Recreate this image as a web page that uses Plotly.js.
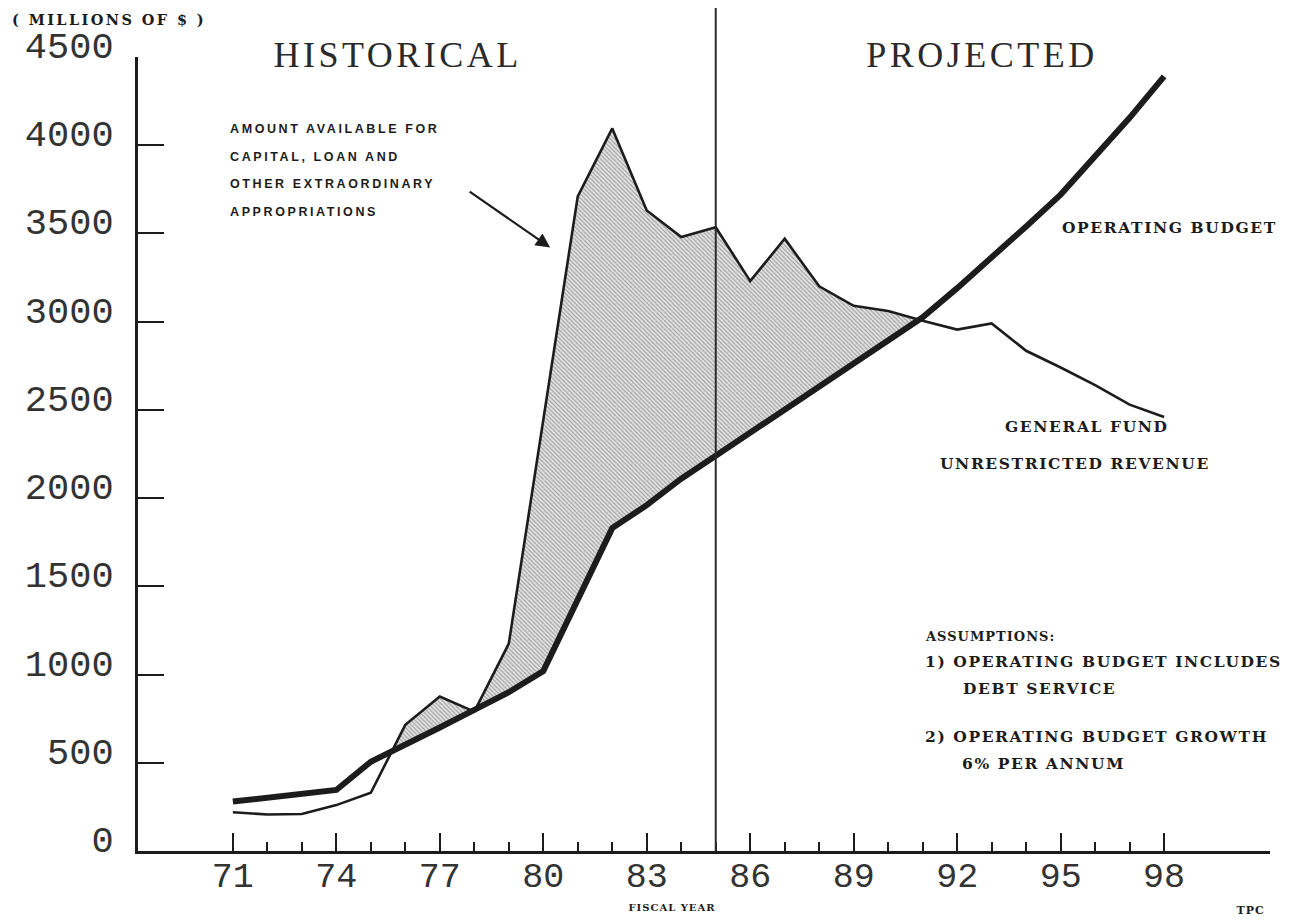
<!DOCTYPE html>
<html>
<head>
<meta charset="utf-8">
<script src="https://cdn.plot.ly/plotly-3.0.1.min.js"></script>
<style>
  html, body { margin: 0; padding: 0; background: #ffffff; }
  #chart { width: 1291px; height: 921px; }
  g.annotation[data-index="0"] text,
  g.annotation[data-index="1"] text,
  g.annotation[data-index="2"] text,
  g.annotation[data-index="3"] text { letter-spacing: 2.6px; }
  g.annotation[data-index="4"] text,
  g.annotation[data-index="5"] text { letter-spacing: 3.5px; }
  g.annotation[data-index="6"] text,
  g.annotation[data-index="7"] text,
  g.annotation[data-index="8"] text,
  g.annotation[data-index="10"] text,
  g.annotation[data-index="11"] text,
  g.annotation[data-index="12"] text,
  g.annotation[data-index="13"] text { letter-spacing: 1.6px; }
  g.annotation[data-index="9"] text { letter-spacing: 1px; }
  g.annotation[data-index="14"] text,
  g.annotation[data-index="15"] text { letter-spacing: 1px; }
  g.annotation[data-index="16"] text { letter-spacing: 2.4px; }
</style>
</head>
<body>
<div id="chart"></div>
<script>
// ---- data ----
const years = [71,72,73,74,75,76,77,78,79,80,81,82,83,84,85,86,87,88,89,90,91,92,93,94,95,96,97,98];
const generalFund = [220,207,210,260,330,715,875,790,1175,2440,3710,4095,3630,3480,3535,3230,3470,3200,3090,3060,3005,2955,2990,2835,2740,2640,2530,2460];
const operatingBudget = [280,302,325,346,506,600,700,800,900,1020,1425,1830,1960,2110,2240,2370,2500,2630,2760,2885,3025,3190,3360,3540,3720,3935,4155,4390];
const yTickVals = [0,500,1000,1500,2000,2500,3000,3500,4000,4500];
const yTickText = ["0","500","1000","1500","2000","2500","3000","3500","4000","4500"];
const xMajorVals = [71,74,77,80,83,86,89,92,95,98];
const xMajorText = ["71","74","77","80","83","86","89","92","95","98"];
const xMinorVals = [72,73,75,76,78,79,81,82,84,85,87,88,90,91,93,94,96,97];
const dividerYear = 85;
const arrowTarget = {year: 80.2, value: 3420};

// ---- build the shaded band (where revenue exceeds the operating budget) ----
const bandX = [], bandLow = [], bandHigh = [];
for (let i = 0; i < years.length; i++) {
  if (i > 0) {
    const d0 = generalFund[i-1] - operatingBudget[i-1];
    const d1 = generalFund[i] - operatingBudget[i];
    if ((d0 > 0 && d1 < 0) || (d0 < 0 && d1 > 0)) {
      const t = d0 / (d0 - d1);
      const xc = years[i-1] + t * (years[i] - years[i-1]);
      const yc = operatingBudget[i-1] + t * (operatingBudget[i] - operatingBudget[i-1]);
      bandX.push(xc); bandLow.push(yc); bandHigh.push(yc);
    }
  }
  bandX.push(years[i]);
  bandLow.push(operatingBudget[i]);
  bandHigh.push(Math.max(generalFund[i], operatingBudget[i]));
}

const ink = '#1c1c1c';
const traces = [
  {x: bandX, y: bandLow, type: 'scatter', mode: 'lines', line: {width: 0, color: 'rgba(0,0,0,0)'}, hoverinfo: 'skip', showlegend: false},
  {x: bandX, y: bandHigh, type: 'scatter', mode: 'lines', fill: 'tonexty', line: {width: 0, color: 'rgba(0,0,0,0)'},
   fillcolor: '#e2e2e2',
   fillpattern: {shape: '\\', bgcolor: '#e3e3e3', fgcolor: '#9a9a9a', size: 3, solidity: 0.35},
   hoverinfo: 'skip', showlegend: false},
  {x: years, y: generalFund, type: 'scatter', mode: 'lines', name: 'General Fund Unrestricted Revenue',
   line: {color: ink, width: 2.6}, showlegend: false},
  {x: years, y: operatingBudget, type: 'scatter', mode: 'lines', name: 'Operating Budget',
   line: {color: ink, width: 6}, showlegend: false}
];

// pixel -> paper helpers for text placement
const L = 138, T = 57, W = 1132, H = 794;
const px = p => (p - L) / W;
const py = p => (T + H - p) / H;

const sans = {family: 'Liberation Sans, Arial, sans-serif', size: 12.5, color: ink, weight: 'bold'};
const serifB = s => ({family: 'DejaVu Serif, Liberation Serif, serif', size: s, color: ink, weight: 'bold'});
const serifR = s => ({family: 'Liberation Serif, Times New Roman, serif', size: s, color: '#2a2a2a'});

function txt(text, x, y, font, xanchor) {
  return {text: text, xref: 'paper', yref: 'paper', x: px(x), y: py(y), xanchor: xanchor || 'left',
          yanchor: 'middle', align: xanchor === 'center' ? 'center' : 'left', showarrow: false, font: font};
}

const annotations = [
  txt('AMOUNT AVAILABLE FOR', 228, 129, sans),
  txt('CAPITAL, LOAN AND', 228, 157, sans),
  txt('OTHER EXTRAORDINARY', 228, 184, sans),
  txt('APPROPRIATIONS', 228, 212, sans),
  txt('HISTORICAL', 397, 55, serifR(36), 'center'),
  txt('PROJECTED', 982, 55, serifR(36), 'center'),
  txt('OPERATING BUDGET', 1060, 227, serifB(15.5)),
  txt('GENERAL FUND', 1003, 426, serifB(15.5)),
  txt('UNRESTRICTED REVENUE', 938, 464, serifB(15.5)),
  txt('ASSUMPTIONS:', 923, 636, serifB(13)),
  txt('1) OPERATING BUDGET INCLUDES', 923, 661, serifB(15.5)),
  txt('DEBT SERVICE', 961, 688, serifB(15.5)),
  txt('2) OPERATING BUDGET GROWTH', 923, 736, serifB(15.5)),
  txt('6% PER ANNUM', 960, 763, serifB(15.5)),
  txt('FISCAL YEAR', 672, 908, serifB(10), 'center'),
  txt('TPC', 1250, 911, serifB(11), 'center'),
  txt('( MILLIONS OF $ )', 10, 20, serifB(14.5)),
  {x: arrowTarget.year, y: arrowTarget.value, xref: 'x', yref: 'y', text: '', showarrow: true,
   ax: -82, ay: -57, arrowhead: 2, arrowsize: 1.3, arrowwidth: 2.2, arrowcolor: ink, standoff: 0}
];

const layout = {
  width: 1291, height: 921,
  margin: {l: L, r: 1291 - L - W, t: T, b: 921 - T - H, pad: 0},
  paper_bgcolor: '#ffffff', plot_bgcolor: '#ffffff',
  showlegend: false,
  xaxis: {
    range: [68.25, 101.07], showgrid: false, zeroline: false,
    showline: true, linecolor: ink, linewidth: 3,
    tickmode: 'array', tickvals: xMajorVals, ticktext: xMajorText,
    ticks: 'inside', ticklen: 18, tickwidth: 2, tickcolor: ink,
    minor: {tickmode: 'array', tickvals: xMinorVals, ticks: 'inside', ticklen: 9, tickwidth: 2, tickcolor: ink, showgrid: false},
    tickfont: {family: 'Liberation Mono, Courier New, monospace', size: 35, color: '#333333'},
    ticklabelstandoff: -9
  },
  yaxis: {
    range: [0, 4500], showgrid: false, zeroline: false,
    showline: true, linecolor: ink, linewidth: 3,
    tickmode: 'array', tickvals: yTickVals, ticktext: yTickText,
    ticks: 'inside', ticklen: 26, tickwidth: 2, tickcolor: ink,
    tickfont: {family: 'Liberation Mono, Courier New, monospace', size: 37, color: '#333333'},
    ticklabelstandoff: 14, ticklabelshift: -12
  },
  shapes: [
    {type: 'line', xref: 'x', yref: 'paper', x0: dividerYear, x1: dividerYear, y0: 0, y1: py(8),
     line: {color: '#2a2a2a', width: 2}}
  ],
  annotations: annotations
};

Plotly.newPlot('chart', traces, layout, {displayModeBar: false, staticPlot: true});
</script>
</body>
</html>
